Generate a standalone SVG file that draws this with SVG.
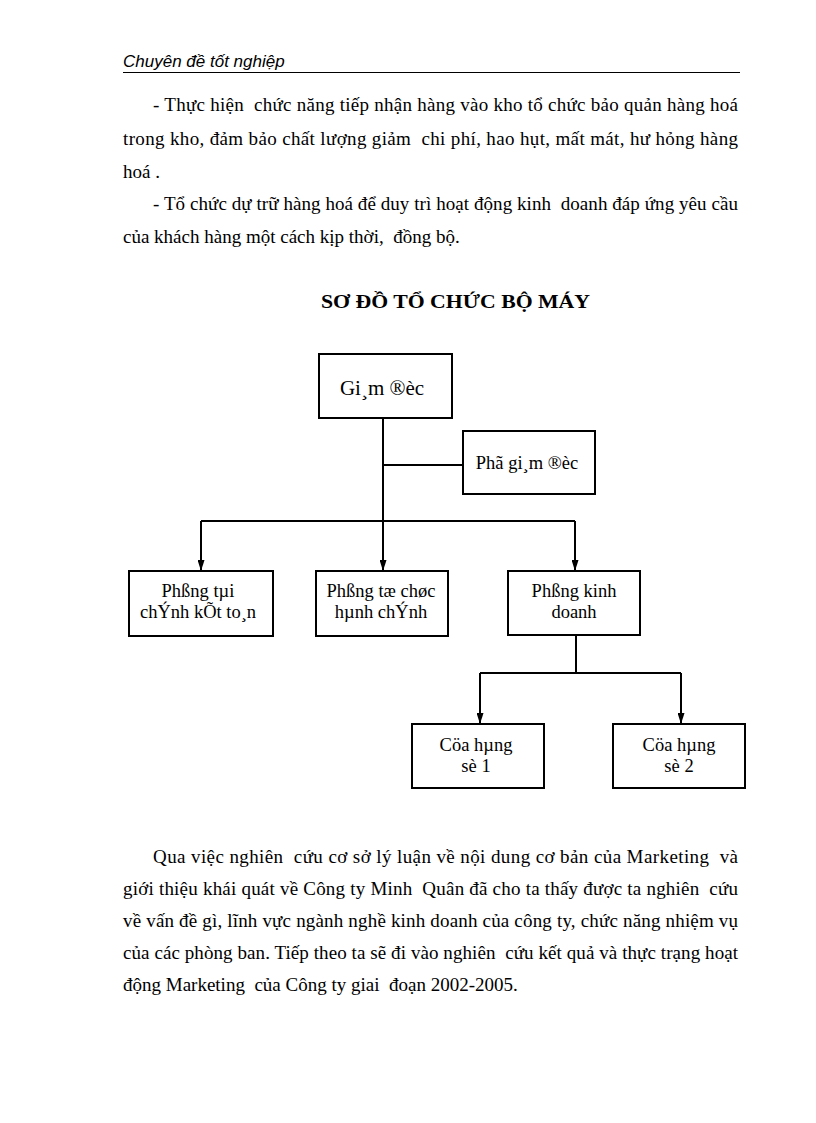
<svg xmlns="http://www.w3.org/2000/svg" width="816" height="1123" viewBox="0 0 816 1123">
<style>
.body{font-family:"Liberation Serif","Times New Roman",serif;font-size:19px;fill:#000;white-space:pre}
.hdr{font-family:"Liberation Sans",Arial,sans-serif;font-size:17px;font-style:italic;fill:#000}
.title{font-family:"Liberation Serif","Times New Roman",serif;font-size:19px;font-weight:bold;fill:#000}
.box{fill:#fff;stroke:#000;stroke-width:2}
.lbl{font-family:"Liberation Serif","Times New Roman",serif;font-size:18.5px;fill:#000;text-anchor:middle}
.big{font-size:21px}
.conn{fill:none;stroke:#000;stroke-width:2}
</style>
<defs>
<marker id="ah" viewBox="0 0 10 10" refX="10" refY="5" markerWidth="11" markerHeight="7" orient="auto" markerUnits="userSpaceOnUse" preserveAspectRatio="none">
<path d="M0,0 L10,5 L0,10 Z" fill="#000"/>
</marker>
</defs>
<rect width="816" height="1123" fill="#fff"/>

<text class="hdr" x="123" y="67">Chuyên đề tốt nghiệp</text>
<line x1="123" y1="72.5" x2="740" y2="72.5" stroke="#000" stroke-width="1.2"/>

<g id="para1">
<text class="body" x="153" y="111" textLength="585" lengthAdjust="spacing">- Thực hiện  chức năng tiếp nhận hàng vào kho tổ chức bảo quản hàng hoá</text>
<text class="body" x="123" y="145" textLength="615" lengthAdjust="spacing">trong kho, đảm bảo chất lượng giảm  chi phí, hao hụt, mất mát, hư hỏng hàng</text>
<text class="body" x="123" y="178">hoá .</text>
<text class="body" x="153" y="210" textLength="585" lengthAdjust="spacing">- Tổ chức dự trữ hàng hoá để duy trì hoạt động kinh  doanh đáp ứng yêu cầu</text>
<text class="body" x="123" y="243">của khách hàng một cách kịp thời,  đồng bộ.</text>
</g>

<text class="title" x="321" y="308" textLength="269" lengthAdjust="spacingAndGlyphs">SƠ ĐỒ TỔ CHỨC BỘ MÁY</text>

<g id="connectors">
<path class="conn" d="M383,418 V521"/>
<path class="conn" d="M383,465 H463"/>
<path class="conn" d="M201,521 H575"/>
<path class="conn" d="M201,521 V571" marker-end="url(#ah)"/>
<path class="conn" d="M383,521 V571" marker-end="url(#ah)"/>
<path class="conn" d="M575,521 V571" marker-end="url(#ah)"/>
<path class="conn" d="M576,635 V673"/>
<path class="conn" d="M480,673 H681"/>
<path class="conn" d="M480,673 V724" marker-end="url(#ah)"/>
<path class="conn" d="M681,673 V724" marker-end="url(#ah)"/>
</g>

<g id="giamdoc">
<rect class="box" x="319" y="354" width="133" height="64"/>
<text class="lbl big" x="382" y="395">Gi¸m ®èc</text>
</g>
<g id="phogiamdoc">
<rect class="box" x="463" y="431" width="132" height="63"/>
<text class="lbl" x="527" y="469">Phã gi¸m ®èc</text>
</g>
<g id="taichinh">
<rect class="box" x="129" y="571" width="144" height="65"/>
<text class="lbl" x="198" y="597">Phßng tµi</text>
<text class="lbl" x="198" y="618">chÝnh kÕt to¸n</text>
</g>
<g id="tochuc">
<rect class="box" x="316" y="571" width="132" height="65"/>
<text class="lbl" x="381" y="597">Phßng tæ chøc</text>
<text class="lbl" x="381" y="618">hµnh chÝnh</text>
</g>
<g id="kinhdoanh">
<rect class="box" x="508" y="571" width="132" height="64"/>
<text class="lbl" x="574" y="597">Phßng kinh</text>
<text class="lbl" x="574" y="618">doanh</text>
</g>
<g id="cuahang1">
<rect class="box" x="412" y="724" width="132" height="64"/>
<text class="lbl" x="476" y="751">Cöa hµng</text>
<text class="lbl" x="476" y="772">sè 1</text>
</g>
<g id="cuahang2">
<rect class="box" x="613" y="724" width="132" height="64"/>
<text class="lbl" x="679" y="751">Cöa hµng</text>
<text class="lbl" x="679" y="772">sè 2</text>
</g>

<g id="para2">
<text class="body" x="153" y="863" textLength="585" lengthAdjust="spacing">Qua việc nghiên  cứu cơ sở lý luận về nội dung cơ bản của Marketing  và</text>
<text class="body" x="123" y="895" textLength="615" lengthAdjust="spacing">giới thiệu khái quát về Công ty Minh  Quân đã cho ta thấy được ta nghiên  cứu</text>
<text class="body" x="123" y="927" textLength="615" lengthAdjust="spacing">về vấn đề gì, lĩnh vực ngành nghề kinh doanh của công ty, chức năng nhiệm vụ</text>
<text class="body" x="123" y="959" textLength="615" lengthAdjust="spacing">của các phòng ban. Tiếp theo ta sẽ đi vào nghiên  cứu kết quả và thực trạng hoạt</text>
<text class="body" x="123" y="991">động Marketing  của Công ty giai  đoạn 2002-2005.</text>
</g>
</svg>
